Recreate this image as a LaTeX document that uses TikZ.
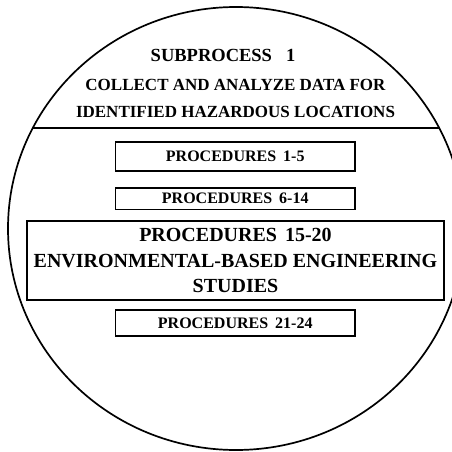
\documentclass[tikz,border=0pt]{standalone}
\usepackage{fontspec}
\setmainfont{Liberation Serif}
\begin{document}
\begin{tikzpicture}[x=1pt,y=-1pt,
  pbox/.style={draw, line width=1.3pt, inner sep=0pt, align=center},
  hdr/.style={inner sep=0pt, anchor=center},
  smallfont/.style={font=\fontsize{16}{18}\selectfont\bfseries},
  bigfont/.style={font=\fontsize{20}{25.8}\selectfont\bfseries},
  hdrfont/.style={font=\fontsize{17}{19}\selectfont\bfseries}]
\useasboundingbox (0,0) rectangle (451,452);
% outer ellipse
\draw[line width=1.7pt] (236,228.5) ellipse [x radius=228, y radius=221.5];
\begin{scope}
  \clip (236,228.5) ellipse [x radius=228, y radius=221.5];
  \coordinate (ll) at (0,128);
  \coordinate (lr) at (470,128);
  \draw[line width=1.3pt] (ll) -- (lr);
\end{scope}
% header
\node[hdr, font=\fontsize{18.5}{20}\selectfont\bfseries] (t1) at (223,55) {SUBPROCESS\hspace{14pt}1};
\node[hdr, hdrfont] (t2) at (235.5,84.5) {COLLECT AND ANALYZE DATA FOR};
\node[hdr, hdrfont] (t3) at (235.5,111.7) {IDENTIFIED HAZARDOUS LOCATIONS};
% boxes
\node[pbox, smallfont, minimum width=239.5pt, minimum height=29pt] (p1) at (235.25,156.5) {PROCEDURES\hspace{3pt} 1-5};
\node[pbox, smallfont, minimum width=239.5pt, minimum height=21.5pt] (p2) at (235.25,198.75) {PROCEDURES\hspace{3pt} 6-14};
\node[pbox, bigfont, minimum width=417pt, minimum height=79pt] (p3) at (235.5,260.5) {PROCEDURES\hspace{3pt} 15-20\\ENVIRONMENTAL-BASED ENGINEERING\\STUDIES};
\node[pbox, smallfont, minimum width=239.5pt, minimum height=26pt] (p4) at (235.25,323) {PROCEDURES\hspace{3pt} 21-24};
\end{tikzpicture}
\end{document}
